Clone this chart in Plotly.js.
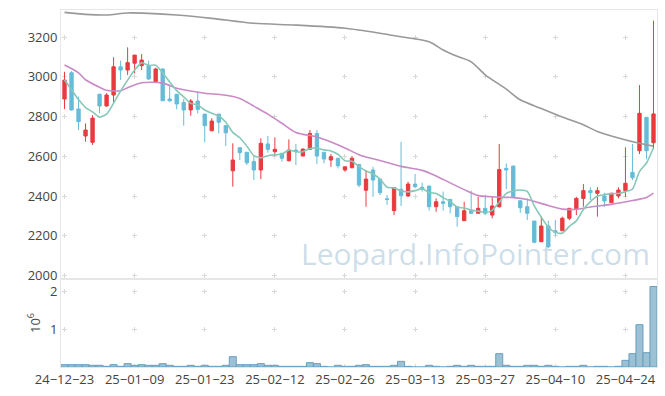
<!DOCTYPE html>
<html><head><meta charset="utf-8">
<script src="https://cdn.plot.ly/plotly-3.0.1.min.js"></script>
<style>html,body{margin:0;padding:0;background:#fff}#chart{width:665px;height:396px}</style>
</head><body><div id="chart"></div>
<script>
const dates = ['2024-12-23','2024-12-24','2024-12-26','2024-12-27','2024-12-30','2025-01-02','2025-01-03','2025-01-06','2025-01-07','2025-01-08',
'2025-01-09','2025-01-10','2025-01-13','2025-01-14','2025-01-15','2025-01-16','2025-01-17','2025-01-20','2025-01-21','2025-01-22',
'2025-01-23','2025-01-24','2025-01-31','2025-02-03','2025-02-04','2025-02-05','2025-02-06','2025-02-07','2025-02-10','2025-02-11',
'2025-02-12','2025-02-13','2025-02-14','2025-02-17','2025-02-18','2025-02-19','2025-02-20','2025-02-21','2025-02-24','2025-02-25',
'2025-02-26','2025-02-27','2025-02-28','2025-03-04','2025-03-05','2025-03-06','2025-03-07','2025-03-10','2025-03-11','2025-03-12',
'2025-03-13','2025-03-14','2025-03-17','2025-03-18','2025-03-19','2025-03-20','2025-03-21','2025-03-24','2025-03-25','2025-03-26',
'2025-03-27','2025-03-28','2025-03-31','2025-04-01','2025-04-02','2025-04-03','2025-04-04','2025-04-07','2025-04-08','2025-04-09',
'2025-04-10','2025-04-11','2025-04-14','2025-04-15','2025-04-16','2025-04-17','2025-04-18','2025-04-21','2025-04-22','2025-04-23',
'2025-04-24','2025-04-25','2025-04-28','2025-04-29','2025-04-30'];

const openP = [2888,3020,2838,2702,2670,2912,2853,2908,3050,3034,
3068,3056,3056,2975,3039,2888,2912,2871,2833,2878,
2812,2728,2812,2754,2527,2643,2620,2573,2531,2662,
2623,2615,2578,2631,2601,2635,2715,2620,2581,2590,
2531,2542,2559,2429,2531,2485,2386,2326,2434,2400,
2460,2444,2450,2346,2371,2383,2346,2276,2326,2313,
2338,2304,2346,2539,2551,2376,2346,2274,2170,2249,
2225,2225,2288,2333,2388,2427,2414,2400,2366,2400,
2427,2519,2628,2796,2668];
const highP = [3025,3028,2900,2765,2807,2915,2918,3098,3081,3148,
3109,3114,3081,3045,3042,2953,2912,2888,2888,2926,
2812,2791,2812,2754,2665,2643,2620,2606,2690,2702,
2695,2615,2685,2662,2640,2732,2732,2620,2611,2590,
2547,2601,2559,2531,2547,2485,2405,2442,2673,2472,
2511,2467,2450,2388,2422,2383,2346,2371,2427,2396,
2400,2396,2662,2564,2551,2376,2388,2274,2296,2276,
2279,2296,2338,2396,2460,2444,2444,2417,2414,2444,
2645,2662,2958,2796,3282];
const lowP = [2838,2830,2732,2673,2657,2816,2850,2870,2984,3009,
3017,3034,2984,2968,2879,2874,2836,2754,2804,2816,
2670,2728,2715,2652,2447,2581,2556,2480,2485,2618,
2601,2573,2573,2556,2601,2635,2561,2564,2547,2539,
2522,2542,2444,2346,2396,2405,2355,2304,2350,2396,
2439,2422,2326,2321,2326,2313,2246,2276,2313,2313,
2304,2288,2342,2434,2396,2316,2279,2162,2170,2137,
2199,2225,2279,2304,2346,2380,2296,2346,2366,2388,
2396,2480,2611,2585,2635];
const closeP = [2983,2833,2774,2732,2792,2853,2908,3050,3034,3071,
3109,3084,2989,3039,2879,2879,2863,2833,2878,2836,
2754,2777,2771,2718,2581,2618,2567,2531,2665,2635,
2635,2590,2631,2623,2636,2715,2601,2586,2598,2552,
2547,2590,2455,2485,2480,2417,2383,2442,2401,2460,
2447,2434,2346,2371,2363,2346,2296,2326,2313,2338,
2313,2350,2533,2531,2396,2341,2313,2167,2249,2145,
2217,2288,2338,2388,2427,2417,2427,2375,2414,2430,
2464,2492,2816,2628,2813];

const volume = [62000,62000,62000,62000,45000,45000,18000,62000,18000,88000,
45000,62000,45000,45000,88000,45000,18000,18000,45000,18000,
45000,18000,18000,45000,273000,62000,62000,62000,88000,45000,
45000,18000,18000,18000,18000,115000,88000,18000,0,45000,
18000,18000,45000,62000,18000,18000,18000,45000,150000,18000,
0,0,45000,18000,0,18000,45000,18000,45000,18000,
18000,18000,353000,45000,18000,18000,45000,45000,18000,45000,
18000,0,18000,18000,45000,0,18000,18000,0,18000,
176000,353000,1120000,379000,2130000];

const ma5 = [2985,2935,2885,2845,2823,2797,2812,2867,2928,2983,
3034,3070,3057,3058,3020,2974,2930,2899,2866,2858,
2833,2816,2803,2771,2720,2693,2651,2603,2592,2603,
2607,2611,2631,2623,2623,2639,2641,2632,2627,2610,
2577,2575,2548,2526,2511,2485,2444,2441,2425,2421,
2427,2437,2418,2412,2392,2372,2344,2340,2329,2324,
2317,2328,2369,2413,2425,2430,2423,2350,2293,2243,
2218,2213,2247,2275,2332,2372,2399,2407,2412,2413,
2422,2435,2523,2566,2643];

const ma20Idx = [0,2,3,5,6,8,9,11,14,16,18,20,23,25,27,29,31,33,36,38,40,42,44,46,48,51,53,55,57,59,61,64,66,69,71,73,75,78,81,83,84];
const ma20 = [3059,3020,2985,2947,2932,2930,2945,2970,2968,2942,2928,2917,2907,2891,2852,2812,2766,2720,2697,2672,2642,2608,2587,2569,2549,2529,2501,2466,2432,2402,2396,2392,2382,2352,2334,2333,2345,2358,2377,2392,2414];

const ma120Idx = [0,3,6,9,12,16,21,27,33,40,45,48,52,54,56,58,60,63,65,68,71,74,76,79,82,84];
const ma120 = [3324,3314,3311,3321,3319,3311,3294,3269,3260,3244,3219,3201,3176,3135,3103,3075,3010,2938,2884,2840,2797,2758,2725,2692,2665,2651];

const tickDates = ['2024-12-23','2025-01-09','2025-01-23','2025-02-12','2025-02-26','2025-03-13','2025-03-27','2025-04-10','2025-04-24'];
const tickLabels = ['24\u221212\u221223','25\u221201\u221209','25\u221201\u221223','25\u221202\u221212','25\u221202\u221226','25\u221203\u221213','25\u221203\u221227','25\u221204\u221210','25\u221204\u221224'];
const volTicks = [1000000, 2000000];
const volTickLabels = ['1', '2'];
const watermark = 'Leopard.InfoPointer.com';

const RED = '#ea3a3f', BLUE = '#66bcd8';
const fnt = {family: 'Open Sans, sans-serif', size: 13, color: '#444'};

const traces = [
  {type: 'candlestick', x: dates, open: openP, high: highP, low: lowP, close: closeP,
   xaxis: 'x', yaxis: 'y', whiskerwidth: 0, hoverinfo: 'skip',
   increasing: {line: {color: RED, width: 1}, fillcolor: RED},
   decreasing: {line: {color: BLUE, width: 1}, fillcolor: BLUE}},
  {type: 'scatter', mode: 'lines', x: ma120Idx.map(i => dates[i]), y: ma120, xaxis: 'x', yaxis: 'y',
   line: {color: '#999999', width: 1.6, shape: 'spline', smoothing: 0.8}, hoverinfo: 'skip'},
  {type: 'scatter', mode: 'lines', x: ma20Idx.map(i => dates[i]), y: ma20, xaxis: 'x', yaxis: 'y',
   line: {color: '#c98ac6', width: 1.6, shape: 'spline', smoothing: 0.8}, hoverinfo: 'skip'},
  {type: 'scatter', mode: 'lines', x: dates, y: ma5, xaxis: 'x', yaxis: 'y',
   line: {color: '#86c8b8', width: 1.6, shape: 'spline', smoothing: 0.6}, hoverinfo: 'skip'},
  {type: 'bar', x: dates, y: volume, xaxis: 'x2', yaxis: 'y2',
   marker: {color: '#9cc1d4', line: {color: '#6a9fbf', width: 1}}, hoverinfo: 'skip'}
];

const gridCol = '#d9d9d9', frameCol = '#e6e6e6';
const hGridDash = '0px,1px,5px,64.118px';

const layout = {
  width: 665, height: 396,
  margin: {l: 61, r: 8, t: 10, b: 29},
  paper_bgcolor: '#fff', plot_bgcolor: '#fff',
  showlegend: false,
  font: fnt,
  bargap: 0, boxgap: 0.32,
  xaxis: {type: 'category', categoryorder: 'array', categoryarray: dates, anchor: 'y',
    range: [-0.5, 84.5], tickmode: 'array', tickvals: tickDates, ticktext: tickLabels,
    showticklabels: false, ticks: '', rangeslider: {visible: false},
    showgrid: true, gridcolor: gridCol, gridwidth: 1, griddash: '0px,24.5px,5px,10.25px',
    showline: true, mirror: true, linecolor: frameCol, linewidth: 1, zeroline: false, fixedrange: true},
  xaxis2: {type: 'category', categoryorder: 'array', categoryarray: dates, anchor: 'y2', matches: 'x',
    range: [-0.5, 84.5], tickmode: 'array', tickvals: tickDates, ticktext: tickLabels,
    showticklabels: true, ticks: '', tickfont: fnt,
    showgrid: true, gridcolor: gridCol, gridwidth: 1, griddash: '0px,9.9px,5px,22.9px',
    showline: true, mirror: true, linecolor: frameCol, linewidth: 1, zeroline: false},
  yaxis: {domain: [0.2465, 1], anchor: 'x', range: [1982.4, 3335.9], tick0: 2000, dtick: 200,
    ticks: '', tickfont: fnt, showgrid: true, gridcolor: gridCol, gridwidth: 1, griddash: hGridDash,
    showline: true, mirror: true, linecolor: frameCol, linewidth: 1, zeroline: false},
  yaxis2: {domain: [0, 0.2465], anchor: 'x2', range: [0, 2328000], tickmode: 'array',
    tickvals: volTicks, ticktext: volTickLabels, ticks: '', tickfont: fnt,
    title: {text: '10<sup>6</sup>', font: fnt, standoff: 6},
    showgrid: true, gridcolor: gridCol, gridwidth: 1, griddash: hGridDash,
    showline: true, mirror: true, linecolor: frameCol, linewidth: 1, zeroline: false},
  annotations: [{text: watermark, xref: 'paper', yref: 'paper', x: 0.696, y: 0.318,
    xanchor: 'center', yanchor: 'middle', showarrow: false,
    font: {family: 'Open Sans, sans-serif', size: 30, color: 'rgba(80,140,180,0.30)'}}]
};

Plotly.newPlot('chart', traces, layout, {displayModeBar: false, staticPlot: true});
</script></body></html>
